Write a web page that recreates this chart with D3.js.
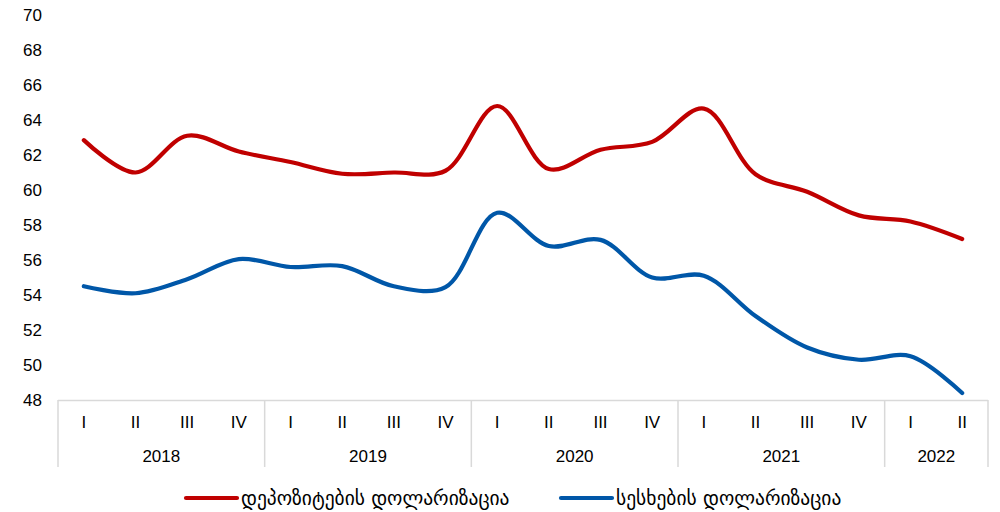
<!DOCTYPE html>
<html>
<head>
<meta charset="utf-8">
<script src="https://cdn.jsdelivr.net/npm/d3@7"></script>
<style>
  html, body { margin: 0; padding: 0; background: #fff; }
  svg { display: block; }
</style>
</head>
<body>
<svg id="chart" width="1000" height="512"></svg>
<script>
const years = ["2018", "2019", "2020", "2021", "2022"];
const quartersPerYear = [4, 4, 4, 4, 2];
const quarterNames = ["I", "II", "III", "IV"];
const depositDollarization = [62.85, 61.0, 63.1, 62.2, 61.6, 60.93, 61.0, 61.1, 64.8, 61.2, 62.3, 62.75, 64.65, 60.9, 59.9, 58.55, 58.2, 57.2];
const loanDollarization = [54.5, 54.1, 54.9, 56.05, 55.6, 55.65, 54.5, 54.45, 58.7, 56.8, 57.15, 55.0, 55.1, 52.8, 51.0, 50.3, 50.5, 48.4];
const yTicks = [48, 50, 52, 54, 56, 58, 60, 62, 64, 66, 68, 70];
const seriesNames = ["დეპოზიტების დოლარიზაცია", "სესხების დოლარიზაცია"];
const seriesColors = ["#C00000", "#0057A8"];

const categories = [];
years.forEach((yr, i) => {
  for (let q = 0; q < quartersPerYear[i]; q++) categories.push({ key: yr + "-" + q, year: yr, q: quarterNames[q] });
});

const svg = d3.select("#chart");
const plotLeft = 58, plotRight = 988, plotTop = 15, plotBottom = 400;

const x = d3.scaleBand().domain(categories.map(d => d.key)).range([plotLeft, plotRight]);
const y = d3.scaleLinear().domain([48, 70]).range([plotBottom, plotTop]);

const numFont = "'Liberation Sans', Arial, sans-serif";

// y tick labels
svg.append("g").selectAll("text").data(yTicks).join("text")
  .attr("x", 42).attr("y", d => y(d)).attr("dy", "0.35em")
  .attr("text-anchor", "end")
  .attr("font-family", numFont).attr("font-size", 17).attr("fill", "#000")
  .text(d => d);

// category axis
const axisColor = "#d9d9d9";
svg.append("line").attr("x1", plotLeft).attr("x2", plotRight).attr("y1", plotBottom + 0.5).attr("y2", plotBottom + 0.5)
  .attr("stroke", axisColor).attr("stroke-width", 1.5);

// year separators
const boundaries = [0];
let acc = 0;
quartersPerYear.forEach(n => { acc += n; boundaries.push(acc); });
const bx = d => d === categories.length ? plotRight : x(categories[d].key);
svg.append("g").selectAll("line").data(boundaries).join("line")
  .attr("x1", bx).attr("x2", bx)
  .attr("y1", plotBottom).attr("y2", 467)
  .attr("stroke", axisColor).attr("stroke-width", 1.5);

// quarter labels
svg.append("g").selectAll("text").data(categories).join("text")
  .attr("x", d => x(d.key) + x.bandwidth() / 2).attr("y", 428)
  .attr("text-anchor", "middle")
  .attr("font-family", numFont).attr("font-size", 17).attr("fill", "#000")
  .text(d => d.q);

// year labels
svg.append("g").selectAll("text").data(years).join("text")
  .attr("x", (d, i) => (bx(boundaries[i]) + bx(boundaries[i + 1])) / 2)
  .attr("y", 462)
  .attr("text-anchor", "middle")
  .attr("font-family", numFont).attr("font-size", 17).attr("fill", "#000")
  .text(d => d);

// lines
const line = d3.line()
  .x((d, i) => x(categories[i].key) + x.bandwidth() / 2)
  .y(d => y(d))
  .curve(d3.curveCatmullRom.alpha(0.5));

[depositDollarization, loanDollarization].forEach((s, i) => {
  svg.append("path").datum(s)
    .attr("d", line)
    .attr("fill", "none")
    .attr("stroke", seriesColors[i])
    .attr("stroke-width", 4.2)
    .attr("stroke-linecap", "round")
    .attr("stroke-linejoin", "round");
});

// legend
const legendX = [186, 561];
seriesNames.forEach((name, i) => {
  const g = svg.append("g").attr("transform", `translate(${legendX[i]},498)`);
  g.append("line").attr("x1", 0).attr("x2", 51).attr("y1", 0).attr("y2", 0)
    .attr("stroke", seriesColors[i]).attr("stroke-width", 4.2).attr("stroke-linecap", "round");
  g.append("text").attr("x", 55).attr("y", 0).attr("dy", "0.35em")
    .attr("font-family", "'DejaVu Sans', sans-serif").attr("font-size", 19.5).attr("fill", "#000")
    .text(name);
});
</script>
</body>
</html>
